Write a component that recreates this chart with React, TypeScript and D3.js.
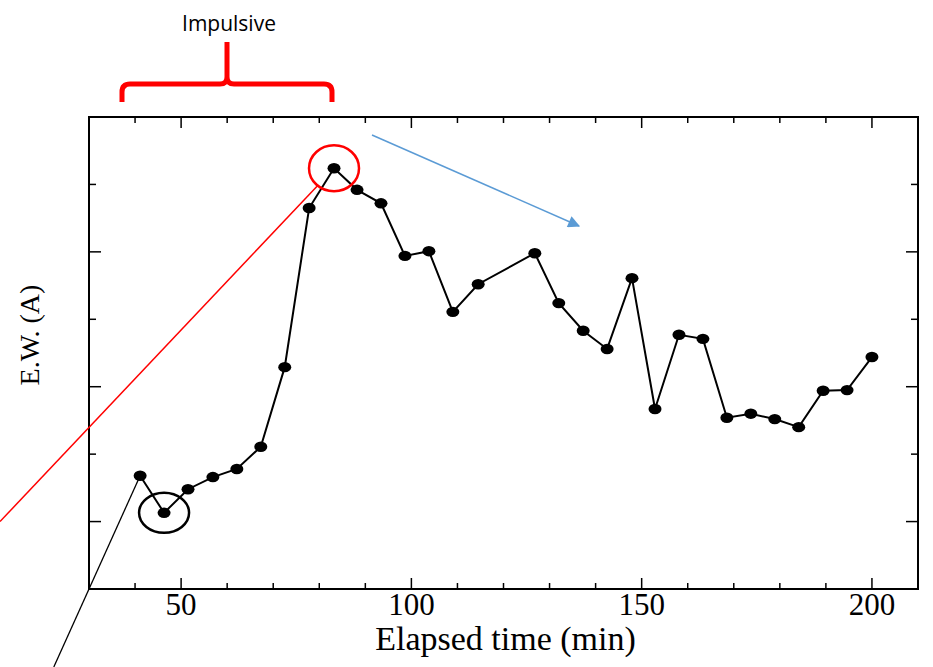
import React from "react";
import * as d3 from "d3";

const times: number[] = [41.1, 46.3, 51.5, 56.9, 62.1, 67.3, 72.5, 77.8, 83.2, 88.2, 93.4, 98.6, 103.8, 109.0, 114.5, 126.8, 132.0, 137.3, 142.5, 147.9, 152.9, 158.1, 163.3, 168.5, 173.7, 178.9, 184.1, 189.4, 194.6, 200.0];
const ew: number[] = [1.68, 1.13, 1.48, 1.66, 1.78, 2.11, 3.29, 5.65, 6.24, 5.92, 5.72, 4.94, 5.01, 4.11, 4.52, 4.98, 4.24, 3.83, 3.56, 4.61, 2.67, 3.77, 3.71, 2.54, 2.6, 2.52, 2.4, 2.94, 2.95, 3.44];
const xTickLabels: number[] = [50, 100, 150, 200];
const xMinorTicks: number[] = [40, 50, 60, 70, 80, 90, 100, 110, 120, 130, 140, 150, 160, 170, 180, 190, 200];
const yTicks: number[] = [1, 2, 3, 4, 5, 6];
const xTitle = "Elapsed time (min)";
const yTitle = "E.W. (A)";
const bracketLabel = "Impulsive";
const lowIndex = 1;
const peakIndex = 8;

const W = 933, H = 667;
const L = 89, R = 918, T = 117, B = 589;

export default function App() {
  const x = d3.scaleLinear().domain([30, 210]).range([L, R]);
  const y = d3.scaleLinear().domain([0, 7]).range([B, T]);
  const pts = times.map((t, i) => [x(t), y(ew[i])] as [number, number]);
  const line = d3.line()(pts) || "";

  const pk = pts[peakIndex];
  const rs: [number, number] = [0, y(1)];
  const dx = pk[0] - rs[0], dy = pk[1] - rs[1];
  const dl = Math.hypot(dx, dy);
  const rEnd: [number, number] = [pk[0] - (dx / dl) * 24, pk[1] - (dy / dl) * 24];

  const p0 = pts[0];
  const c0: [number, number] = [x(30), y(0)];
  const k = (H - p0[1]) / (c0[1] - p0[1]);
  const bEnd: [number, number] = [p0[0] + (c0[0] - p0[0]) * k, H];

  const low = pts[lowIndex];

  const bx0 = 122, bx1 = 332, bmid = (bx0 + bx1) / 2;
  const bracePath = `M${bx0},102 V92 Q${bx0},84 ${bx0 + 8},84 H${bmid - 7} Q${bmid},84 ${bmid},77 V42 M${bx1},102 V92 Q${bx1},84 ${bx1 - 8},84 H${bmid + 7} Q${bmid},84 ${bmid},77`;

  const serif = "'Liberation Serif', 'Times New Roman', serif";

  return (
    <div style={{ position: "absolute", left: 0, top: 0 }}>
      <svg width={W} height={H} viewBox={`0 0 ${W} ${H}`} style={{ display: "block", background: "#fff" }}>
        <defs>
          <marker id="arrowBlue" viewBox="0 0 10 10" refX="9" refY="5" markerWidth="16" markerHeight="12" markerUnits="userSpaceOnUse" orient="auto">
            <path d="M0,0 L10,5 L0,10 Z" fill="#5B9BD5" />
          </marker>
        </defs>
        <rect x={L} y={T} width={R - L} height={B - T} fill="none" stroke="#000" strokeWidth={2} />
        {xMinorTicks.map((v) => {
          const major = v % 50 === 0;
          const len = major ? 11 : 6;
          return (
            <g key={"xt" + v}>
              <line x1={x(v)} x2={x(v)} y1={B} y2={B - len} stroke="#000" strokeWidth={1.5} />
              <line x1={x(v)} x2={x(v)} y1={T} y2={T + len} stroke="#000" strokeWidth={1.5} />
            </g>
          );
        })}
        {yTicks.map((v) => {
          const major = v % 2 === 1;
          const len = major ? 12 : 7;
          return (
            <g key={"yt" + v}>
              <line x1={L} x2={L + len} y1={y(v)} y2={y(v)} stroke="#000" strokeWidth={1.5} />
              <line x1={R} x2={R - len} y1={y(v)} y2={y(v)} stroke="#000" strokeWidth={1.5} />
            </g>
          );
        })}
        {xTickLabels.map((v) => (
          <text key={"xl" + v} x={x(v)} y={615} textAnchor="middle" fontFamily={serif} fontSize={31}>
            {v}
          </text>
        ))}
        <text x={(L + R) / 2 + 2} y={650} textAnchor="middle" fontFamily={serif} fontSize={34}>
          {xTitle}
        </text>
        <text transform={`translate(39,335) rotate(-90)`} textAnchor="middle" fontFamily={serif} fontSize={28}>
          {yTitle}
        </text>

        <line x1={rs[0]} y1={rs[1]} x2={rEnd[0]} y2={rEnd[1]} stroke="#FF0000" strokeWidth={1.5} />
        <line x1={p0[0]} y1={p0[1]} x2={bEnd[0]} y2={bEnd[1]} stroke="#000" strokeWidth={1.3} />

        <path d={line} fill="none" stroke="#000" strokeWidth={2} />
        {pts.map((p, i) => (
          <ellipse key={"pt" + i} cx={p[0]} cy={p[1]} rx={6.5} ry={5.2} fill="#000" />
        ))}

        <ellipse cx={pk[0]} cy={pk[1]} rx={25} ry={23} fill="none" stroke="#FF0000" strokeWidth={2.5} />
        <ellipse cx={low[0]} cy={low[1]} rx={25} ry={20} fill="none" stroke="#000" strokeWidth={2.5} />

        <line x1={372} y1={135} x2={579} y2={226} stroke="#5B9BD5" strokeWidth={1.5} markerEnd="url(#arrowBlue)" />

        <path d={bracePath} fill="none" stroke="#FF0000" strokeWidth={5} />
        <text x={bmid + 2} y={31} textAnchor="middle" fontFamily="'Open Sans', 'Liberation Sans', sans-serif" fontSize={21}>
          {bracketLabel}
        </text>
      </svg>
    </div>
  );
}
